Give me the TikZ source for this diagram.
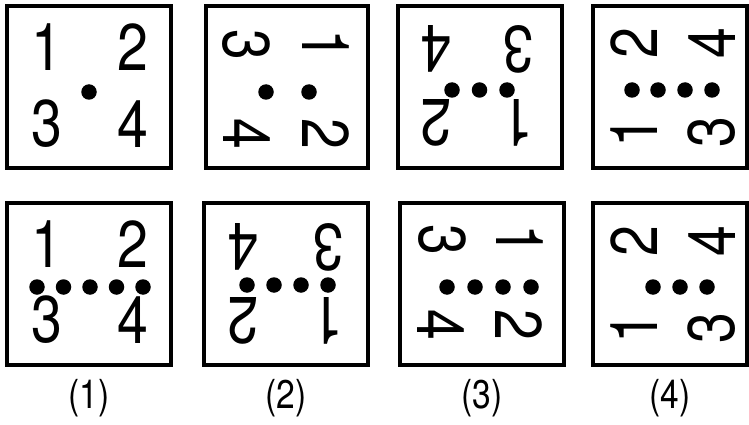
\documentclass[tikz,border=0pt]{standalone}
\usepackage{fontspec}
\newfontfamily\helv{TeX Gyre Heros}
\newcommand{\digsize}{\helv\fontsize{66}{66}\selectfont}
\newcommand{\labsize}{\helv\fontsize{40}{40}\selectfont}
\newcommand{\nar}[1]{\scalebox{0.84}[1]{#1}}
\tikzset{
  frame/.style={draw=black, line width=4.5pt, inner sep=0pt, outer sep=0pt},
  digit/.style={font=\digsize, inner sep=0pt, outer sep=0pt},
  pip/.style={circle, fill=black, minimum size=15.5pt, inner sep=0pt, outer sep=0pt},
  caption/.style={font=\labsize, inner sep=0pt, outer sep=0pt}
}
\begin{document}
\begin{tikzpicture}[x=1pt,y=-1pt]
\useasboundingbox[fill=white] (0,0) rectangle (749,425);
% frames
\node[frame, minimum width=164pt, minimum height=162pt] (fA) at (89,87) {};
\node[frame, minimum width=162pt, minimum height=162pt] (fB) at (287,87) {};
\node[frame, minimum width=164pt, minimum height=162pt] (fC) at (480,87) {};
\node[frame, minimum width=154pt, minimum height=162pt] (fD) at (670,87) {};
\node[frame, minimum width=164pt, minimum height=162pt] (fE) at (89,284) {};
\node[frame, minimum width=164pt, minimum height=162pt] (fF) at (286,284) {};
\node[frame, minimum width=164pt, minimum height=162pt] (fG) at (482,284) {};
\node[frame, minimum width=154pt, minimum height=162pt] (fH) at (670,284) {};
% box A
\node[digit] (a1) at (47,47) {\nar{1}};
\node[digit] (a2) at (133,47) {\nar{2}};
\node[digit] (a3) at (47,124) {\nar{3}};
\node[digit] (a4) at (133,124) {\nar{4}};
\node[pip] (ad1) at (89,92) {};
% box B (rotated clockwise)
\node[digit, rotate=-90] (b3) at (246,45) {\nar{3}};
\node[digit, rotate=-90] (b1) at (326,45) {\nar{1}};
\node[digit, rotate=-90] (b4) at (247,134) {\nar{4}};
\node[digit, rotate=-90] (b2) at (326,134) {\nar{2}};
\node[pip] (bd1) at (266,92) {};
\node[pip] (bd2) at (309,92) {};
% box C (upside down)
\node[digit, rotate=180] (c4) at (436,49) {\nar{4}};
\node[digit, rotate=180] (c3) at (518,49) {\nar{3}};
\node[digit, rotate=180] (c2) at (436,123) {\nar{2}};
\node[digit, rotate=180] (c1) at (518,123) {\nar{1}};
\node[pip] (cd1) at (452,90) {};
\node[pip] (cd2) at (479.5,90) {};
\node[pip] (cd3) at (507,90) {};
% box D (rotated counter-clockwise)
\node[digit, rotate=90] (d2) at (634,43) {\nar{2}};
\node[digit, rotate=90] (d4) at (712,43) {\nar{4}};
\node[digit, rotate=90] (d1) at (634,132) {\nar{1}};
\node[digit, rotate=90] (d3) at (712,132) {\nar{3}};
\node[pip] (dd1) at (632,90) {};
\node[pip] (dd2) at (658,90) {};
\node[pip] (dd3) at (685,90) {};
\node[pip] (dd4) at (712,90) {};
% box E
\node[digit] (e1) at (47,244) {\nar{1}};
\node[digit] (e2) at (133,244) {\nar{2}};
\node[digit] (e3) at (47,320) {\nar{3}};
\node[digit] (e4) at (133,320) {\nar{4}};
\node[pip] (ed1) at (37,287) {};
\node[pip] (ed2) at (63.5,287) {};
\node[pip] (ed3) at (90,287) {};
\node[pip] (ed4) at (116.5,287) {};
\node[pip] (ed5) at (143,287) {};
% box F (upside down)
\node[digit, rotate=180] (f4) at (243,247) {\nar{4}};
\node[digit, rotate=180] (f3) at (328,247) {\nar{3}};
\node[digit, rotate=180] (f2) at (243,321) {\nar{2}};
\node[digit, rotate=180] (f1) at (328,321) {\nar{1}};
\node[pip] (fd1) at (247,285) {};
\node[pip] (fd2) at (274,285) {};
\node[pip] (fd3) at (301,285) {};
\node[pip] (fd4) at (328,285) {};
% box G (rotated clockwise)
\node[digit, rotate=-90] (g3) at (442,240) {\nar{3}};
\node[digit, rotate=-90] (g1) at (520,240) {\nar{1}};
\node[digit, rotate=-90] (g4) at (441,325) {\nar{4}};
\node[digit, rotate=-90] (g2) at (519,325) {\nar{2}};
\node[pip] (gd1) at (447,287) {};
\node[pip] (gd2) at (475,287) {};
\node[pip] (gd3) at (503,287) {};
\node[pip] (gd4) at (531,287) {};
% box H (rotated counter-clockwise)
\node[digit, rotate=90] (h2) at (634,241) {\nar{2}};
\node[digit, rotate=90] (h4) at (712,241) {\nar{4}};
\node[digit, rotate=90] (h1) at (634,328) {\nar{1}};
\node[digit, rotate=90] (h3) at (712,328) {\nar{3}};
\node[pip] (hd1) at (653,287) {};
\node[pip] (hd2) at (680,287) {};
\node[pip] (hd3) at (707,287) {};
% captions
\node[caption] (l1) at (89,398) {\nar{(1)}};
\node[caption] (l2) at (286,398) {\nar{(2)}};
\node[caption] (l3) at (482,398) {\nar{(3)}};
\node[caption] (l4) at (670,398) {\nar{(4)}};
\end{tikzpicture}
\end{document}
